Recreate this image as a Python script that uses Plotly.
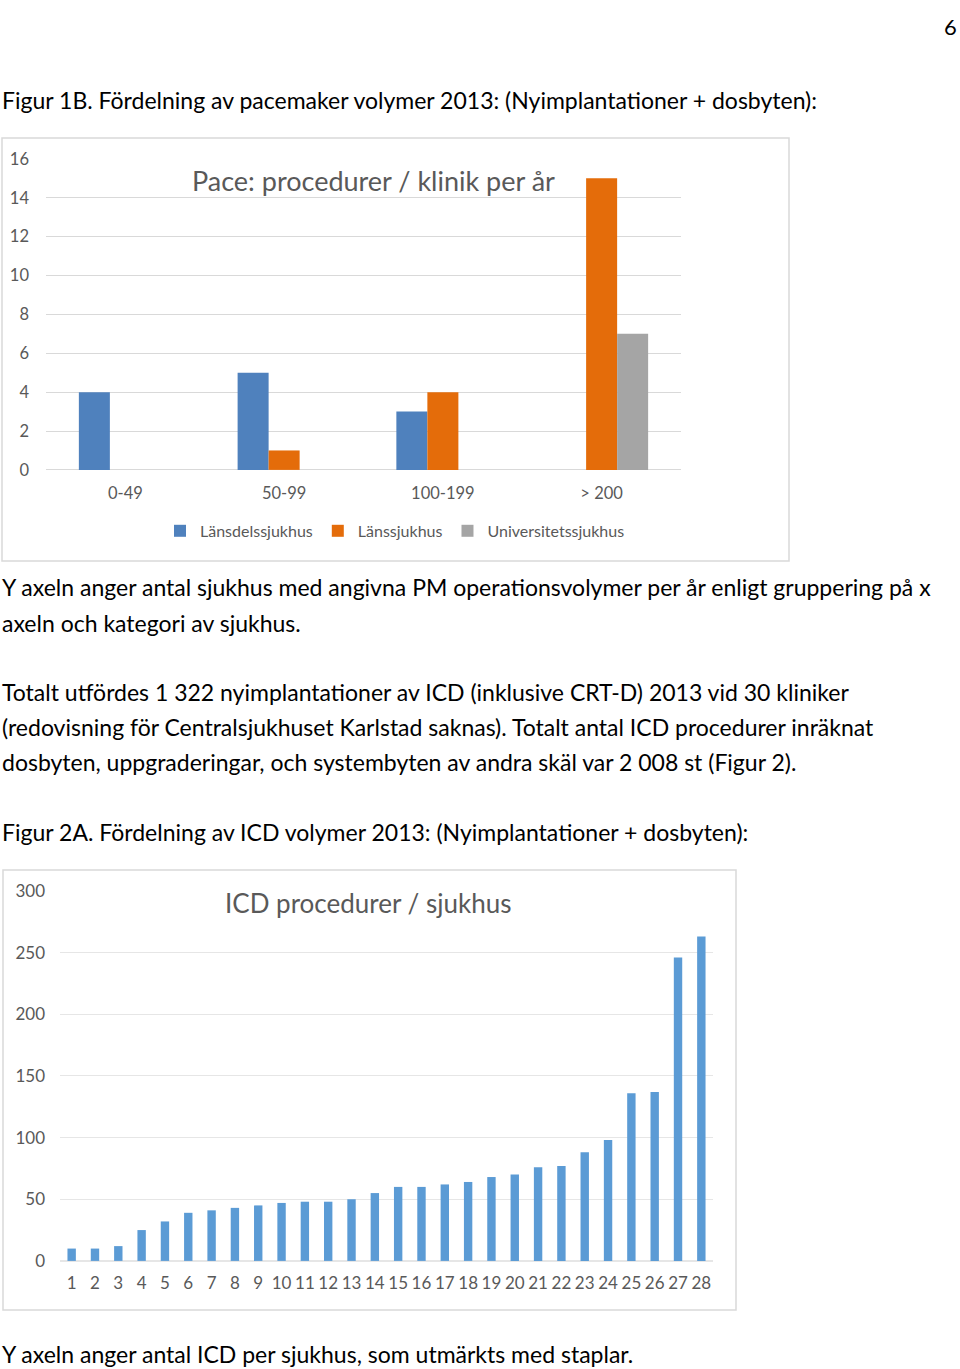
import plotly.graph_objects as go

W, H = 960, 1369

# ---- Data: Pace chart ----
pace_categories = ["0-49", "50-99", "100-199", "> 200"]
pace_lansdel = [4, 5, 3, 0]
pace_lans = [0, 1, 4, 15]
pace_univ = [0, 0, 0, 7]
pace_series_names = ["Länsdelssjukhus", "Länssjukhus", "Universitetssjukhus"]

# ---- Data: ICD chart ----
icd_hospitals = [str(i) for i in range(1, 29)]
icd_values = [10, 10, 12, 25, 32, 39, 41, 43, 45, 47, 48, 48, 50, 55,
              60, 60, 62, 64, 68, 70, 76, 77, 88, 98, 136, 137, 246, 263]

BODY_FONT = "Lato"
GRAY = "#595959"
GRID = "#d9d9d9"

# vertical compensation for the capture (measured: shown = A*y + B)
A, B = 0.98464, 11.12


def px(x):
    return x / W


def py(y):
    return 1 - ((y - B) / A) / H


fig = go.Figure()

colors = ["#4f81bd", "#e46c0a", "#a5a5a5"]
for name, vals, c in zip(pace_series_names, [pace_lansdel, pace_lans, pace_univ], colors):
    fig.add_trace(go.Bar(x=pace_categories, y=vals, name=name, marker_color=c,
                         marker_line_width=0, xaxis="x", yaxis="y"))

fig.add_trace(go.Bar(x=icd_hospitals, y=icd_values, marker_color="#5b9bd5",
                     marker_line_width=0, xaxis="x2", yaxis="y2", showlegend=False,
                     width=0.36))

axis_font = dict(family=BODY_FONT, size=16.5, color=GRAY)

fig.update_layout(
    width=W, height=H,
    margin=dict(l=0, r=0, t=0, b=0),
    paper_bgcolor="white", plot_bgcolor="white",
    barmode="group", bargap=0.414, bargroupgap=0,
    font=dict(family=BODY_FONT, color=GRAY),
    xaxis=dict(domain=[px(46), px(681)], anchor="y", showgrid=False, showline=False,
               ticks="", tickfont=axis_font, ticklabelstandoff=12, fixedrange=True),
    yaxis=dict(domain=[py(470), py(159)], anchor="x", range=[0, 16], dtick=2,
               showgrid=True, gridcolor=GRID, gridwidth=1, zeroline=True,
               zerolinecolor=GRID, zerolinewidth=1, showline=False, ticks="",
               tickfont=axis_font, ticklabelstandoff=16),
    xaxis2=dict(domain=[px(60), px(713)], anchor="y2", showgrid=False, showline=False,
                ticks="", tickfont=dict(family=BODY_FONT, size=17, color=GRAY),
                ticklabelstandoff=10, tickangle=0),
    yaxis2=dict(domain=[py(1261), py(891)], anchor="x2", range=[0, 300], dtick=50,
                showgrid=True, gridcolor="#e6e6e6", gridwidth=1, zeroline=True,
                zerolinecolor="#e6e6e6", showline=False, ticks="",
                tickfont=dict(family=BODY_FONT, size=17, color=GRAY),
                ticklabelstandoff=14),
    legend=dict(orientation="h", x=px(395), xanchor="center", y=py(531),
                yanchor="middle", font=dict(family=BODY_FONT, size=16, color=GRAY),
                bgcolor="rgba(0,0,0,0)", itemwidth=30, tracegroupgap=0),
    showlegend=True,
)

# chart borders
fig.add_shape(type="rect", xref="paper", yref="paper", x0=px(2), x1=px(789),
              y0=py(561), y1=py(138), line=dict(color=GRID, width=1.5))
fig.add_shape(type="rect", xref="paper", yref="paper", x0=px(3), x1=px(736),
              y0=py(1310), y1=py(870), line=dict(color=GRID, width=1.5))

# chart titles
fig.add_annotation(text="Pace: procedurer / klinik per år", xref="paper", yref="paper",
                   x=px(373), y=py(181), xanchor="center", yanchor="middle",
                   showarrow=False, font=dict(family=BODY_FONT, size=27, color=GRAY))
fig.add_annotation(text="ICD procedurer / sjukhus", xref="paper", yref="paper",
                   x=px(368), y=py(903), xanchor="center", yanchor="middle",
                   showarrow=False, font=dict(family=BODY_FONT, size=26, color=GRAY))

# page text
text_lines = [
    (100, "Figur 1B. Fördelning av pacemaker volymer 2013: (Nyimplantationer + dosbyten):"),
    (587, "Y axeln anger antal sjukhus med angivna PM operationsvolymer per år enligt gruppering på x"),
    (623, "axeln och kategori av sjukhus."),
    (692, "Totalt utfördes 1 322 nyimplantationer av ICD (inklusive CRT-D) 2013 vid 30 kliniker"),
    (727, "(redovisning för Centralsjukhuset Karlstad saknas). Totalt antal ICD procedurer inräknat"),
    (762, "dosbyten, uppgraderingar, och systembyten av andra skäl var 2 008 st (Figur 2)."),
    (832, "Figur 2A. Fördelning av ICD volymer 2013: (Nyimplantationer + dosbyten):"),
    (1354, "Y axeln anger antal ICD per sjukhus, som utmärkts med staplar."),
]
for y, t in text_lines:
    fig.add_annotation(text=t, xref="paper", yref="paper", x=0, y=py(y),
                       xanchor="left", yanchor="middle", showarrow=False,
                       font=dict(family=BODY_FONT, size=23, color="#000000"))

fig.add_annotation(text="6", xref="paper", yref="paper", x=px(959), y=1.0,
                   xanchor="right", yanchor="top", showarrow=False,
                   font=dict(family=BODY_FONT, size=22, color="#000000"))

fig.write_html(
    "out.html",
    config={"displayModeBar": False},
    post_script=(
        "document.documentElement.style.overflow='hidden';"
        "document.documentElement.style.margin='0';"
        "document.body.style.margin='0';"
        "document.body.style.overflow='hidden';"
        "var gd=document.getElementsByClassName('plotly-graph-div')[0];"
        "gd.style.position='absolute';gd.style.top='0px';gd.style.left='0px';"
    ),
)
